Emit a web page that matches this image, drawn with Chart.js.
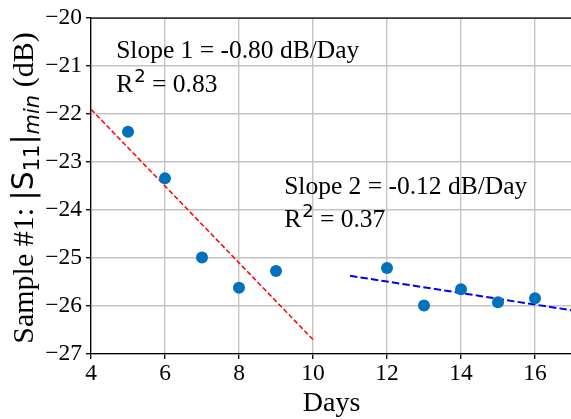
<!DOCTYPE html>
<html><head><meta charset="utf-8">
<script src="https://cdn.jsdelivr.net/npm/chart.js@4/dist/chart.umd.min.js"></script>
<style>
html,body{margin:0;padding:0;background:#fff;overflow:hidden;}
#wrap{width:571px;height:419px;overflow:hidden;position:relative;}
canvas{display:block;}
</style></head>
<body><div id="wrap"><canvas id="c" width="600" height="419"></canvas></div>
<script>
// ---- data ----
const days = [5, 6, 7, 8, 9, 12, 13, 14, 15, 16];
const s11min = [-22.37, -23.34, -24.99, -25.62, -25.27, -25.21, -25.99, -25.65, -25.92, -25.84];
const fit1Days = [4, 10];
const fit1Vals = [-21.9, -26.7];
const fit2Days = [11, 17];
const fit2Vals = [-25.37, -26.09];
const xTicks = [4, 6, 8, 10, 12, 14, 16];
const yTicks = [-27, -26, -25, -24, -23, -22, -21, -20];
const xLabel = 'Days';
const annot1 = ['Slope 1 = -0.80 dB/Day', '0.83'];
const annot2 = ['Slope 2 = -0.12 dB/Day', '0.37'];
const annot1Pos = [4.68, -20.83, -21.54];
const annot2Pos = [9.22, -23.66, -24.36];

const SERIF = '"Liberation Serif", "Times New Roman", serif';
const SANS = '"DejaVu Sans", sans-serif';

const pts = days.map((d, i) => ({x: d, y: s11min[i]}));
const f1 = fit1Days.map((d, i) => ({x: d, y: fit1Vals[i]}));
const f2 = fit2Days.map((d, i) => ({x: d, y: fit2Vals[i]}));

const deco = {
  id: 'deco',
  afterDraw(chart) {
    const ctx = chart.ctx, a = chart.chartArea;
    const xs = chart.scales.x, ys = chart.scales.y;
    ctx.save();
    // top and right spines
    ctx.strokeStyle = '#000'; ctx.lineWidth = 1.3;
    ctx.beginPath(); ctx.moveTo(a.left, a.top); ctx.lineTo(a.right, a.top); ctx.lineTo(a.right, a.bottom); ctx.stroke();
    // annotations
    ctx.fillStyle = '#000';
    ctx.textBaseline = 'alphabetic'; ctx.textAlign = 'left';
    function ann(lines, pos) {
      const x = xs.getPixelForValue(pos[0]);
      const y1 = ys.getPixelForValue(pos[1]);
      const y2 = ys.getPixelForValue(pos[2]);
      ctx.font = '25.5px ' + SERIF;
      ctx.fillText(lines[0], x, y1);
      ctx.fillText('R', x, y2);
      let w = ctx.measureText('R').width;
      ctx.font = '18px ' + SANS;
      ctx.fillText('2', x + w + 1, y2 - 10);
      w += 1 + ctx.measureText('2').width;
      ctx.font = '25.5px ' + SERIF;
      ctx.fillText(' = ' + lines[1], x + w, y2);
    }
    ann(annot1, annot1Pos);
    ann(annot2, annot2Pos);
    // y axis title with sub-scripts
    const F = 30;
    const segs = [
      {t: 'Sample #1: ', f: F + 'px ' + SERIF, dy: 0},
      {t: '|S', f: F + 'px ' + SANS, dy: 0},
      {t: '11', f: (F*0.7) + 'px ' + SANS, dy: 6},
      {t: '|', f: F + 'px ' + SANS, dy: 0},
      {t: 'min', f: 'italic ' + (F*0.7) + 'px ' + SANS, dy: 6},
      {t: ' (dB)', f: F + 'px ' + SERIF, dy: 0}
    ];
    let total = 0;
    segs.forEach(s => { ctx.font = s.f; s.w = ctx.measureText(s.t).width; total += s.w; });
    const cy = (a.top + a.bottom) / 2 + 2;
    ctx.translate(33, cy);
    ctx.rotate(-Math.PI / 2);
    let px = -total / 2;
    segs.forEach(s => { ctx.font = s.f; ctx.fillText(s.t, px, s.dy); px += s.w; });
    ctx.restore();
    // x title
    ctx.save();
    ctx.font = '28px ' + SERIF; ctx.fillStyle = '#000';
    ctx.textAlign = 'center'; ctx.textBaseline = 'alphabetic';
    ctx.fillText(xLabel, (a.left + a.right) / 2, 411);
    ctx.restore();
  }
};

new Chart(document.getElementById('c'), {
  type: 'scatter',
  data: {
    datasets: [
      {data: f1, showLine: true, borderColor: '#ff0000', borderWidth: 1.5, borderDash: [5, 2.5], pointRadius: 0, fill: false, order: 2},
      {data: f2, showLine: true, borderColor: '#0000ff', borderWidth: 2, borderDash: [7.4, 3.2], pointRadius: 0, fill: false, order: 2},
      {data: pts, backgroundColor: '#0072BD', borderColor: '#0072BD', pointRadius: 6, pointHoverRadius: 6, borderWidth: 0, order: 1}
    ]
  },
  options: {
    responsive: false, animation: false, devicePixelRatio: 1,
    layout: {padding: {left: 0, top: 17, right: 28, bottom: 0}},
    plugins: {legend: {display: false}, tooltip: {enabled: false}},
    scales: {
      x: {
        type: 'linear', min: 4, max: 17,
        afterBuildTicks: s => { s.ticks = xTicks.map(v => ({value: v})); },
        afterFit: s => { s.height = 65; },
        grid: {color: '#c4c4c4', lineWidth: 1.4, tickColor: '#000', tickLength: 5, tickWidth: 1.3},
        border: {color: '#000', width: 1.3},
        ticks: {color: '#000', font: {family: SERIF, size: 23.5}, padding: 1, maxRotation: 0,
                callback: v => String(v)}
      },
      y: {
        type: 'linear', min: -27, max: -20,
        afterBuildTicks: s => { s.ticks = yTicks.map(v => ({value: v})); },
        afterFit: s => { s.width = 91; },
        grid: {color: '#c4c4c4', lineWidth: 1.4, tickColor: '#000', tickLength: 5, tickWidth: 1.3},
        border: {color: '#000', width: 1.3},
        ticks: {color: '#000', font: {family: SERIF, size: 23.5}, padding: 4,
                callback: v => (v < 0 ? '\u2212' + Math.abs(v) : String(v))}
      }
    }
  },
  plugins: [deco]
});
</script>
</body></html>
